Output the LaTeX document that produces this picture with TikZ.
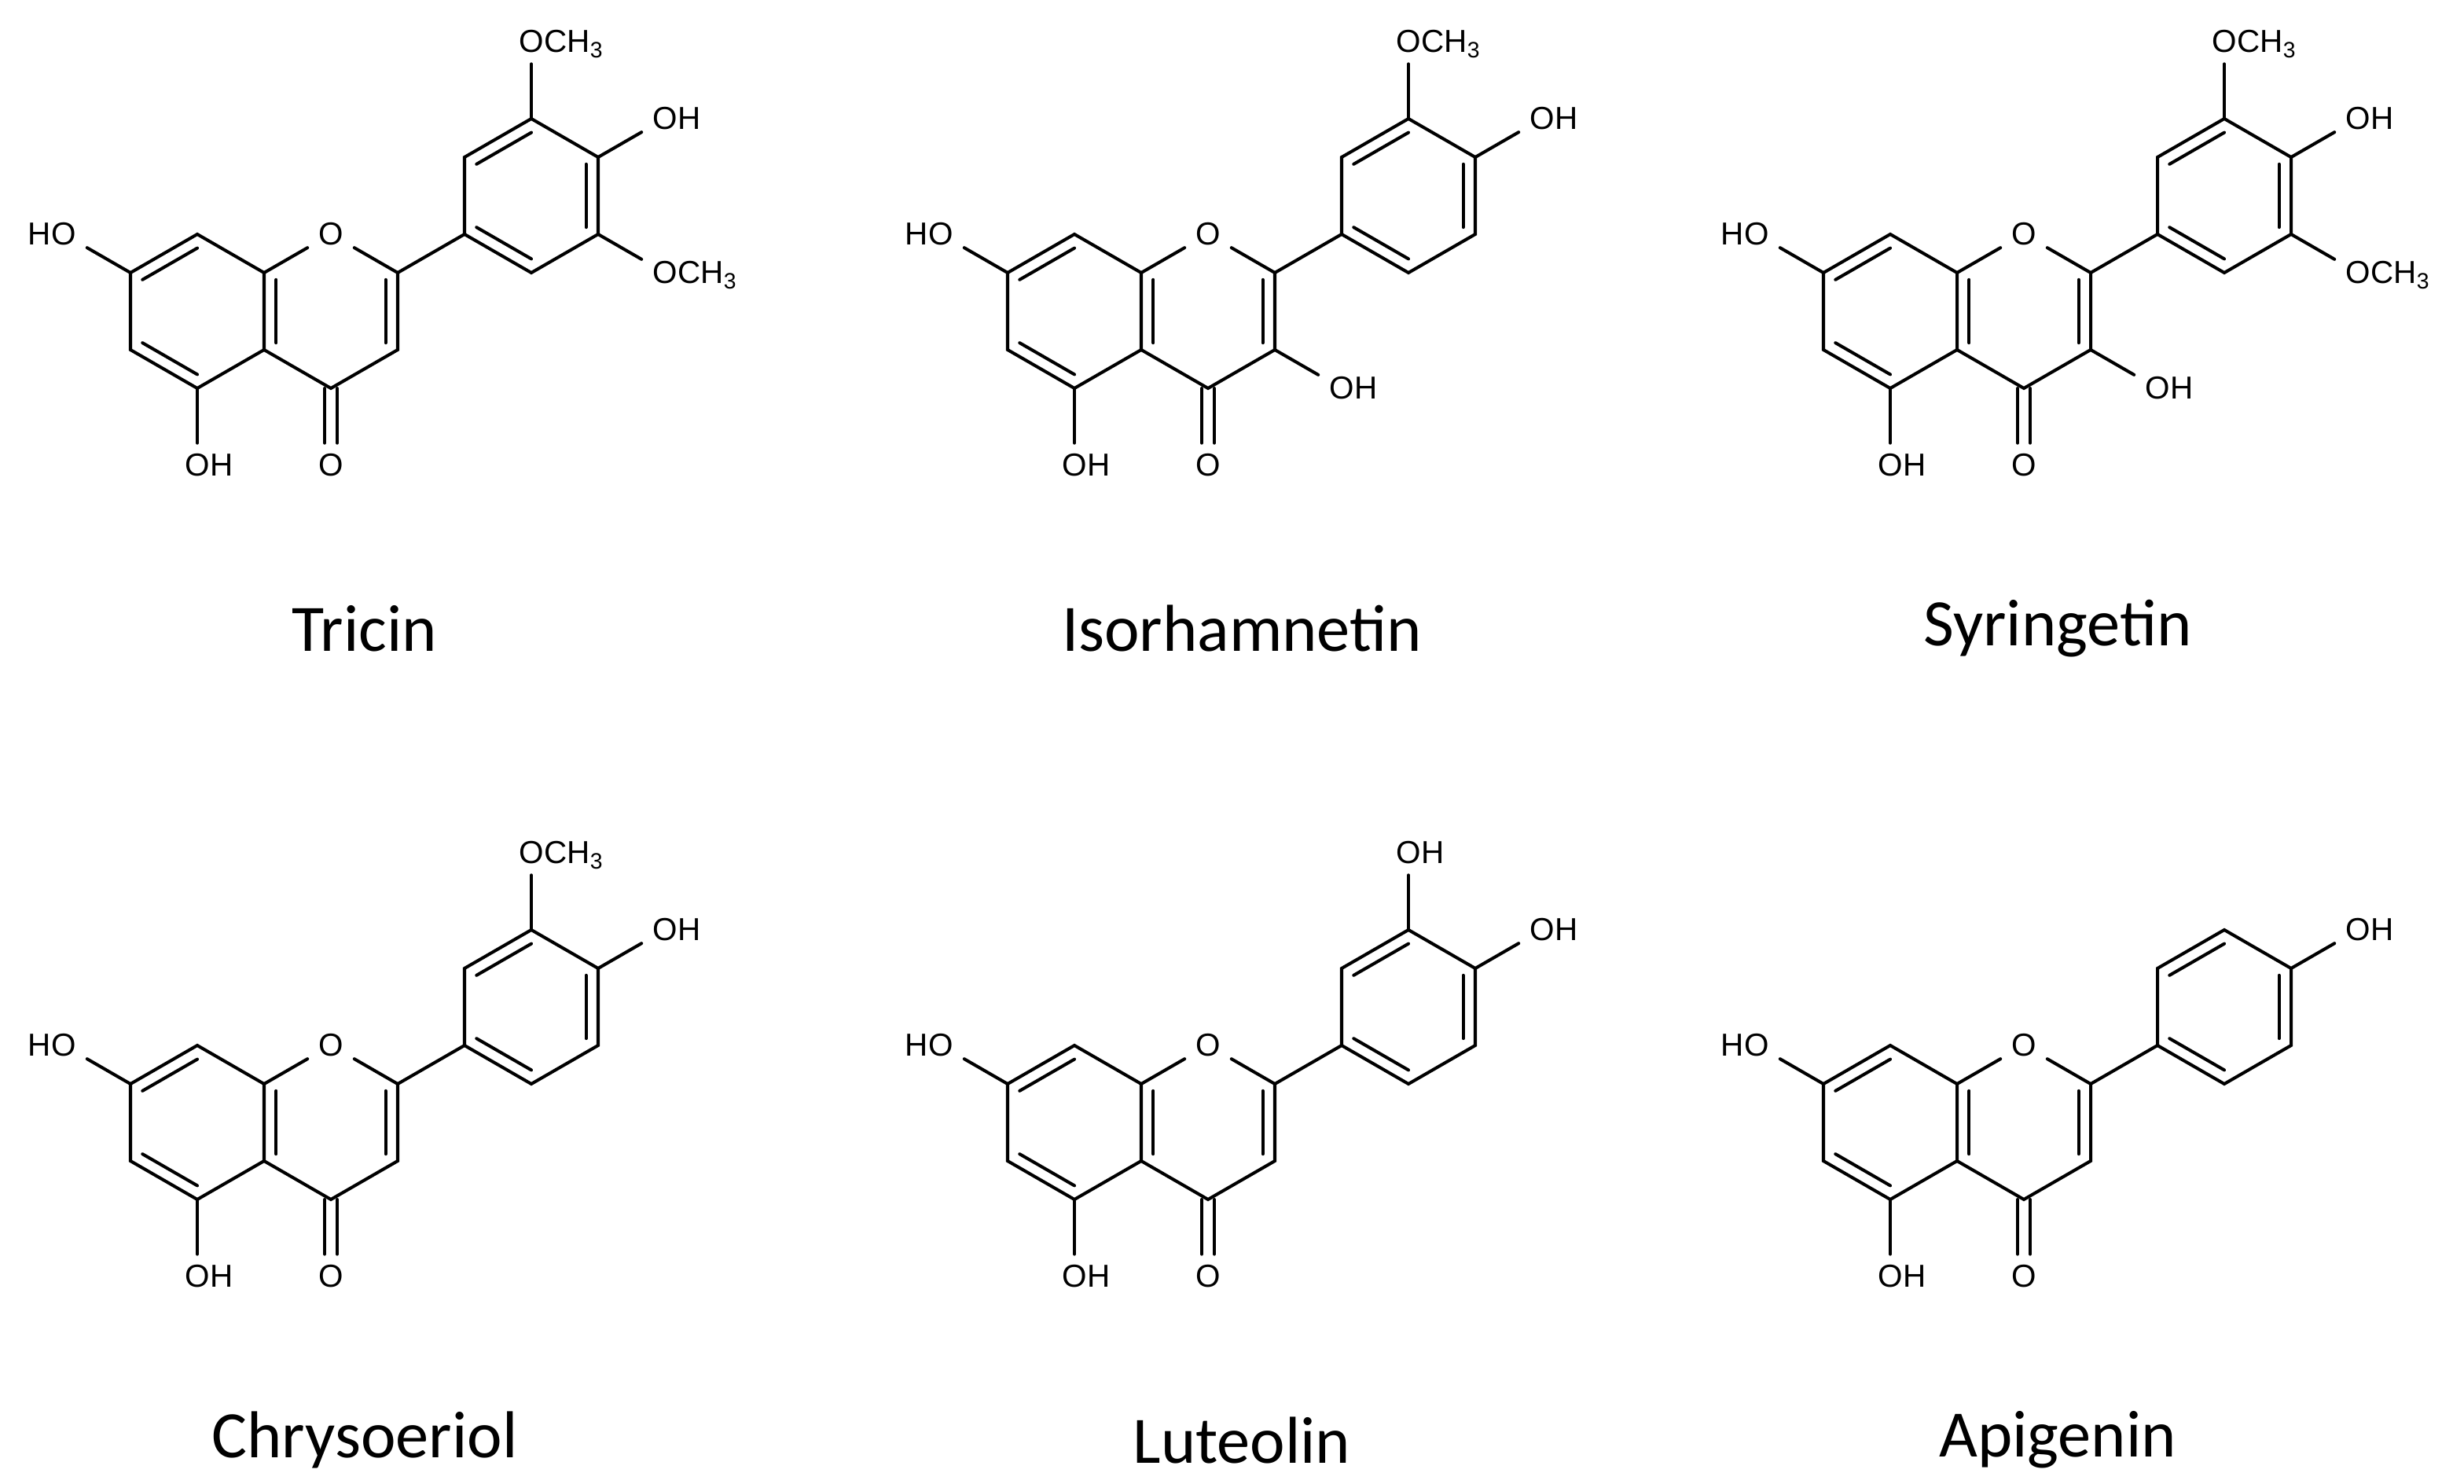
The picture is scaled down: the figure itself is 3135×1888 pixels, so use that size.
\documentclass[tikz,border=0pt]{standalone}
\usepackage{fontspec}
\setmainfont{Liberation Sans}
\newfontfamily\namefont{Carlito}
\usetikzlibrary{calc}
\tikzset{
  bond/.style={line width=1.15pt, line cap=round},
  atom/.style={inner sep=0pt, outer sep=4pt, font=\fontsize{11.5}{13}\selectfont},
  hlab/.style={inner sep=0pt, font=\fontsize{11.5}{13}\selectfont},
  molname/.style={font=\namefont\fontsize{24}{28}\selectfont}
}
% #1 prefix, #2 shift x, #3 shift y, #4 3-OH (1/0), #5 3' (0 none,1 OH,2 OCH3), #6 5' (0/2), #7 name
\newcommand\flavmol[7]{%
\begin{scope}[shift={(#2,#3)}]
  \coordinate (#1A) at (251,396);
  \coordinate (#1Cc) at (421,396);
  \coordinate (#1B) at (676,249);
  \coordinate (#1C8) at (251,298);
  \coordinate (#1C8a) at (336,347);
  \coordinate (#1C4a) at (336,445);
  \coordinate (#1C5) at (251,494);
  \coordinate (#1C6) at (166,445);
  \coordinate (#1C7) at (166,347);
  \node[atom] (#1O1) at (421,298) {O};
  \coordinate (#1C2) at (506,347);
  \coordinate (#1C3) at (506,445);
  \coordinate (#1C4) at (421,494);
  \coordinate (#1B1) at (591,298);
  \coordinate (#1B2) at (591,200);
  \coordinate (#1B3) at (676,151);
  \coordinate (#1B4) at (761,200);
  \coordinate (#1B5) at (761,298);
  \coordinate (#1B6) at (676,347);
  % ring A
  \draw[bond] (#1C8)--(#1C8a)--(#1C4a)--(#1C5)--(#1C6)--(#1C7)--cycle;
  \draw[bond] ($(#1C7)!.18!(#1A)$)--($(#1C8)!.18!(#1A)$);
  \draw[bond] ($(#1C5)!.18!(#1A)$)--($(#1C6)!.18!(#1A)$);
  \draw[bond] ($(#1C8a)!.18!(#1Cc)$)--($(#1C4a)!.18!(#1Cc)$);
  % ring C
  \draw[bond] (#1C8a)--(#1O1);
  \draw[bond] (#1O1)--(#1C2);
  \draw[bond] (#1C2)--(#1C3)--(#1C4)--(#1C4a);
  \draw[bond] ($(#1C2)!.18!(#1Cc)$)--($(#1C3)!.18!(#1Cc)$);
  % ring B
  \draw[bond] (#1C2)--(#1B1);
  \draw[bond] (#1B1)--(#1B2)--(#1B3)--(#1B4)--(#1B5)--(#1B6)--cycle;
  \draw[bond] ($(#1B2)!.18!(#1B)$)--($(#1B3)!.18!(#1B)$);
  \draw[bond] ($(#1B4)!.18!(#1B)$)--($(#1B5)!.18!(#1B)$);
  \draw[bond] ($(#1B6)!.18!(#1B)$)--($(#1B1)!.18!(#1B)$);
  % substituents
  \node[atom] (#1O7) at (81,298) {O};
  \node[hlab,anchor=base east] (#1H7) at ([xshift=4pt]#1O7.base west) {H};
  \draw[bond] (#1C7)--(#1O7);
  \node[atom] (#1O5) at (251,592) {O};
  \node[hlab,anchor=base west] (#1H5) at ([xshift=-4pt]#1O5.base east) {H};
  \draw[bond] (#1C5)--(#1O5);
  \node[atom] (#1O4) at (421,592) {O};
  \draw[bond] ($(#1C4)+(-8,0)$)--($(#1O4.north)+(-8,0)$);
  \draw[bond] ($(#1C4)+(8,0)$)--($(#1O4.north)+(8,0)$);
  \ifnum#4=1
    \node[atom] (#1O3) at (591,494) {O};
    \node[hlab,anchor=base west] (#1H3) at ([xshift=-4pt]#1O3.base east) {H};
    \draw[bond] (#1C3)--(#1O3);
  \fi
  \node[atom] (#1Q4) at (846,151) {O};
  \node[hlab,anchor=base west] (#1J4) at ([xshift=-4pt]#1Q4.base east) {H};
  \draw[bond] (#1B4)--(#1Q4);
  \ifnum#5>0
    \node[atom] (#1Q3) at (676,53) {O};
    \ifnum#5=1
      \node[hlab,anchor=base west] (#1J3) at ([xshift=-4pt]#1Q3.base east) {H};
    \else
      \node[hlab,anchor=base west] (#1J3) at ([xshift=-4pt]#1Q3.base east) {CH\textsubscript{3}};
    \fi
    \draw[bond] (#1B3)--(#1Q3);
  \fi
  \ifnum#6>0
    \node[atom] (#1Q5) at (846,347) {O};
    \node[hlab,anchor=base west] (#1J5) at ([xshift=-4pt]#1Q5.base east) {CH\textsubscript{3}};
    \draw[bond] (#1B5)--(#1Q5);
  \fi
  \node[molname] (#1name) at (464,800) {#7};
\end{scope}}
\begin{document}
\begin{tikzpicture}[x=0.01cm,y=-0.01cm]
  \useasboundingbox (0,0) rectangle (3135,1888);
  \flavmol{t}{0}{0}{0}{2}{2}{Tricin}
  \flavmol{i}{1116}{0}{1}{2}{0}{Isorhamnetin}
  \flavmol{s}{2154}{0}{1}{2}{2}{Syringetin}
  \flavmol{c}{0}{1032}{0}{2}{0}{Chrysoeriol}
  \flavmol{l}{1116}{1032}{0}{1}{0}{Luteolin}
  \flavmol{a}{2154}{1032}{0}{0}{0}{Apigenin}
\end{tikzpicture}
\end{document}
